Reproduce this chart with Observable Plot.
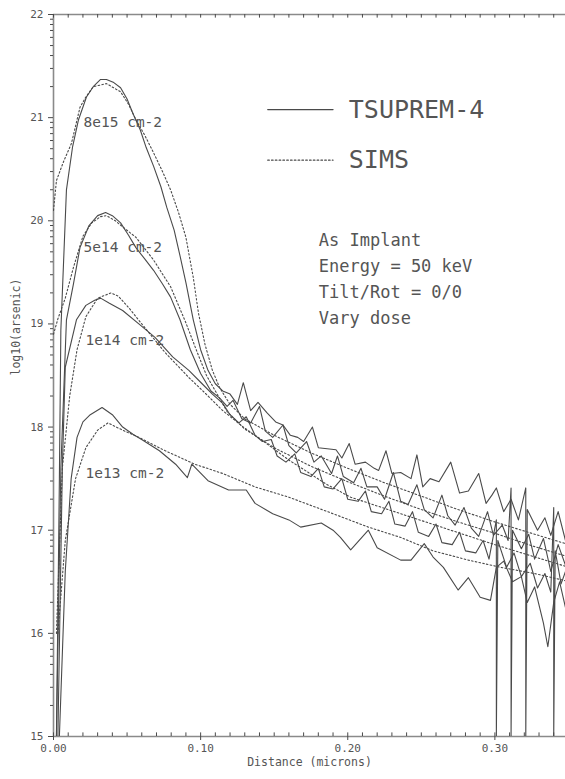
<!DOCTYPE html>
<html>
<head>
<meta charset="utf-8">
<script src="https://cdn.jsdelivr.net/npm/d3@7"></script>
<script src="https://cdn.jsdelivr.net/npm/@observablehq/plot@0.6"></script>
<style>
  html, body { margin: 0; padding: 0; background: #fff; overflow: hidden; }
  #chart svg { display: block; }
</style>
</head>
<body>
<div id="chart"></div>
<script>
// ---- data: [depth (microns), log10(arsenic)] ----
const tsuprem8e15 = [[0.002,15.0],[0.004,17.5],[0.005,18.94],[0.0088,20.3],[0.013,20.72],[0.017,20.98],[0.0224,21.2],[0.027,21.3],[0.032,21.37],[0.036,21.37],[0.041,21.34],[0.0456,21.29],[0.05,21.18],[0.054,21.04],[0.059,20.88],[0.063,20.71],[0.068,20.53],[0.073,20.33],[0.077,20.13],[0.082,19.91],[0.086,19.66],[0.09,19.4],[0.095,19.04],[0.1,18.75],[0.105,18.55],[0.11,18.42],[0.115,18.35],
  [0.12,18.32],[0.125,18.22],[0.129,18.43],[0.134,18.16],[0.139,18.24],[0.145,18.14],[0.151,18.05],[0.156,18.02],[0.161,17.92],[0.166,17.9],[0.17,17.86],[0.176,18.0],[0.18,17.8],[0.186,17.79],[0.192,17.78],[0.196,17.7],[0.201,17.84],[0.205,17.64],[0.212,17.66],[0.218,17.6],[0.221,17.58],[0.226,17.77],[0.23,17.55],[0.236,17.56],[0.243,17.5],[0.247,17.73],[0.251,17.42],[0.256,17.5],[0.262,17.47],[0.27,17.66],[0.276,17.36],[0.282,17.38],[0.289,17.55],[0.294,17.26],[0.298,17.34],[0.301,17.41],[0.306,17.18],[0.311,17.3],[0.316,17.1],[0.321,17.41],[0.321,15.0],[0.322,17.2],[0.329,17.0],[0.334,17.12],[0.338,16.95],[0.343,17.18],[0.348,16.9]];
const tsuprem5e14 = [[0.002,15.0],[0.005,17.6],[0.0088,19.04],[0.0136,19.39],[0.018,19.74],[0.024,19.95],[0.03,20.05],[0.0354,20.08],[0.04,20.05],[0.0456,19.98],[0.051,19.86],[0.056,19.74],[0.062,19.63],[0.068,19.52],[0.074,19.39],[0.0796,19.26],[0.086,19.04],[0.093,18.75],[0.1,18.52],[0.107,18.35],[0.113,18.28],
  [0.118,18.2],[0.122,18.26],[0.128,18.08],[0.134,18.04],[0.14,18.2],[0.144,17.96],[0.149,17.9],[0.156,18.02],[0.16,17.82],[0.165,17.75],[0.172,17.86],[0.177,17.66],[0.182,17.72],[0.189,17.55],[0.193,17.72],[0.197,17.52],[0.204,17.46],[0.209,17.6],[0.213,17.42],[0.22,17.42],[0.225,17.3],[0.231,17.56],[0.236,17.28],[0.241,17.25],[0.247,17.44],[0.252,17.2],[0.258,17.12],[0.264,17.34],[0.268,17.14],[0.273,17.05],[0.279,17.22],[0.284,17.02],[0.289,16.94],[0.295,17.18],[0.299,16.95],[0.305,17.05],[0.309,16.9],[0.311,17.41],[0.311,15.0],[0.312,17.0],[0.318,16.82],[0.323,16.96],[0.327,16.72],[0.333,16.92],[0.338,16.6],[0.343,16.86],[0.348,16.66]];
const tsuprem1e14 = [[0.003,15.0],[0.006,17.6],[0.008,18.58],[0.0156,19.04],[0.022,19.18],[0.028,19.23],[0.032,19.25],[0.038,19.2],[0.047,19.13],[0.058,19.0],[0.069,18.87],[0.081,18.68],[0.092,18.55],[0.101,18.42],[0.108,18.32],[0.115,18.23],
  [0.12,18.12],[0.126,18.04],[0.131,18.1],[0.137,17.92],[0.142,17.86],[0.148,17.88],[0.152,17.72],[0.158,17.66],[0.164,17.74],[0.168,17.56],[0.175,17.52],[0.18,17.6],[0.184,17.42],[0.19,17.4],[0.196,17.5],[0.2,17.3],[0.207,17.28],[0.212,17.38],[0.216,17.18],[0.223,17.16],[0.228,17.28],[0.232,17.06],[0.239,17.04],[0.244,17.18],[0.248,16.98],[0.255,16.94],[0.26,17.06],[0.264,16.88],[0.271,16.86],[0.276,16.98],[0.28,16.8],[0.287,16.78],[0.292,16.9],[0.296,16.72],[0.301,17.1],[0.301,15.0],[0.302,16.9],[0.308,16.64],[0.313,16.78],[0.318,16.55],[0.324,16.68],[0.329,16.44],[0.334,16.58],[0.338,16.4],[0.34,17.22],[0.34,15.0],[0.341,16.8],[0.345,16.48],[0.348,16.6]];
const tsuprem1e13 = [[0.004,15.0],[0.008,16.6],[0.012,17.5],[0.016,17.9],[0.02,18.05],[0.025,18.12],[0.033,18.19],[0.04,18.12],[0.047,18.0],[0.054,17.93],[0.061,17.87],[0.072,17.77],[0.083,17.64],[0.091,17.51],[0.094,17.64],[0.105,17.48],[0.119,17.39],[0.131,17.39],[0.137,17.26],[0.149,17.16],[0.16,17.1],[0.168,17.03],[0.182,17.07],[0.19,17.0],[0.195,16.93],[0.202,16.81],[0.214,17.0],[0.22,16.83],[0.236,16.71],[0.243,16.71],[0.252,16.87],[0.258,16.74],[0.265,16.64],[0.275,16.42],[0.282,16.54],[0.29,16.35],[0.297,16.32],[0.301,16.64],[0.306,16.7],[0.312,16.5],[0.318,16.55],[0.322,16.3],[0.327,16.45],[0.333,16.1],[0.336,15.87],[0.34,16.3],[0.344,16.5],[0.348,16.25]];

const sims8e15 = [[0.0,20.1],[0.002,20.39],[0.007,20.58],[0.0122,20.75],[0.018,21.1],[0.022,21.2],[0.027,21.3],[0.036,21.33],[0.0456,21.25],[0.051,21.13],[0.056,20.98],[0.062,20.83],[0.068,20.66],[0.074,20.48],[0.0796,20.3],[0.085,20.08],[0.09,19.84],[0.095,19.45],[0.0986,19.1],[0.103,18.8],[0.108,18.55],[0.113,18.38],[0.12,18.22],[0.13,18.08],[0.15,17.92],[0.175,17.75],[0.2,17.6],[0.225,17.46],[0.25,17.33],[0.275,17.2],[0.3,17.08],[0.325,16.97],[0.348,16.87]];
const sims5e14 = [[0.0,18.9],[0.003,19.05],[0.008,19.25],[0.0136,19.55],[0.02,19.85],[0.026,19.98],[0.032,20.04],[0.036,20.05],[0.042,20.0],[0.048,19.93],[0.056,19.84],[0.068,19.62],[0.0796,19.36],[0.09,19.01],[0.097,18.75],[0.104,18.5],[0.11,18.35],[0.118,18.15],[0.13,17.98],[0.15,17.8],[0.175,17.62],[0.2,17.47],[0.225,17.33],[0.25,17.2],[0.275,17.08],[0.3,16.97],[0.325,16.85],[0.348,16.75]];
const sims1e14 = [[0.002,16.0],[0.006,17.6],[0.011,18.3],[0.016,18.75],[0.022,19.07],[0.03,19.25],[0.039,19.3],[0.044,19.27],[0.051,19.16],[0.06,19.0],[0.068,18.86],[0.076,18.72],[0.092,18.48],[0.103,18.33],[0.115,18.16],[0.129,18.0],[0.142,17.87],[0.16,17.68],[0.171,17.58],[0.185,17.45],[0.202,17.32],[0.236,17.16],[0.27,17.0],[0.3,16.86],[0.325,16.75],[0.348,16.65]];
const sims1e13 = [[0.003,16.0],[0.008,16.9],[0.015,17.5],[0.022,17.8],[0.03,17.97],[0.037,18.04],[0.047,17.97],[0.058,17.9],[0.076,17.77],[0.096,17.64],[0.115,17.55],[0.137,17.42],[0.16,17.32],[0.19,17.16],[0.214,17.03],[0.236,16.93],[0.258,16.8],[0.282,16.71],[0.304,16.64],[0.327,16.58],[0.348,16.51]];

const doseLabels = ["8e15 cm-2", "5e14 cm-2", "1e14 cm-2", "1e13 cm-2"];
const doseLabelY = [20.957, 19.744, 18.842, 17.551];
const doseLabelX = [0.0204, 0.0204, 0.0218, 0.0218];
const yTickValues = [15, 16, 17, 18, 19, 20, 21, 22];
const xTickValues = [0.0, 0.1, 0.2, 0.3];
const legendNames = ["TSUPREM-4", "SIMS"];
const legendY = [21.078, 20.588];
const notes = ["As Implant", "Energy = 50 keV", "Tilt/Rot = 0/0", "Vary dose"];
const notesY = [19.812, 19.56, 19.308, 19.055];

// ---- build tables ----
const toRows = (arr, name) => arr.map(([x, y]) => ({x, y, name}));
const solidRows = [
  ...toRows(tsuprem8e15, "8e15"), ...toRows(tsuprem5e14, "5e14"),
  ...toRows(tsuprem1e14, "1e14"), ...toRows(tsuprem1e13, "1e13")];
const dottedRows = [
  ...toRows(sims8e15, "8e15"), ...toRows(sims5e14, "5e14"),
  ...toRows(sims1e14, "1e14"), ...toRows(sims1e13, "1e13")];

const xMinor = d3.range(0, 35).map(i => i / 100);
const yMinor = [];
for (let n = 15; n < 22; n++) for (let k = 2; k <= 9; k++) yMinor.push(n + Math.log10(k));

const labelRows = doseLabels.map((t, i) => ({t, x: doseLabelX[i], y: doseLabelY[i]}));
const noteRows = notes.map((t, i) => ({t, x: 0.1803, y: notesY[i]}));
const legendText = legendNames.map((t, i) => ({t, x: 0.2007, y: legendY[i]}));
const legendSolid = [{x: 0.1456, y: legendY[0]}, {x: 0.190, y: legendY[0]}];
const legendDot = [{x: 0.1456, y: legendY[1]}, {x: 0.190, y: legendY[1]}];

const ink = "#4a4a4a";
const axisInk = "#8a8a8a";
const mono = "DejaVu Sans Mono, monospace";

const chart = Plot.plot({
  width: 565,
  height: 779,
  marginLeft: 53,
  marginRight: 0,
  marginTop: 14,
  marginBottom: 43,
  style: {fontFamily: mono, color: ink, background: "#fff"},
  x: {domain: [0, 0.348], axis: null},
  y: {domain: [15, 22], axis: null},
  marks: [
    // frame
    Plot.ruleY([15, 22], {stroke: axisInk, strokeWidth: 1.6}),
    Plot.ruleX([0], {stroke: axisInk, strokeWidth: 1.6}),
    // minor x ticks (bottom and top)
    Plot.ruleX(xMinor, {x: d => d, y1: 15, y2: 15.035, stroke: ink, strokeWidth: 1}),
    Plot.ruleX(xMinor, {x: d => d, y1: 22, y2: 21.965, stroke: ink, strokeWidth: 1}),
    // y ticks
    Plot.axisY(yMinor, {anchor: "left", label: null, tickSize: 3, tickFormat: () => "", stroke: ink}),
    Plot.axisY(yTickValues, {anchor: "left", label: null, tickSize: 5, tickPadding: 5, tickFormat: d3.format("d"),
      fontSize: 11, fill: "#555", stroke: ink, style: {letterSpacing: "0.8px"}}),
    Plot.axisX(xTickValues, {anchor: "bottom", label: null, tickSize: 4, tickPadding: 4, tickFormat: d3.format(".2f"),
      fontSize: 11, fill: "#555", stroke: ink, style: {letterSpacing: "1px"}}),
    // curves
    Plot.line(dottedRows, {x: "x", y: "y", z: "name", stroke: ink, strokeWidth: 1.1, strokeDasharray: "1.6,2.2", clip: true}),
    Plot.line(solidRows, {x: "x", y: "y", z: "name", stroke: ink, strokeWidth: 1.1, clip: true}),
    // curve labels
    Plot.text(labelRows, {x: "x", y: "y", text: "t", textAnchor: "start", fontSize: 14.5, fill: "#555",
      style: {letterSpacing: "1px"}}),
    // legend
    Plot.line(legendSolid, {x: "x", y: "y", stroke: ink, strokeWidth: 1.2}),
    Plot.line(legendDot, {x: "x", y: "y", stroke: ink, strokeWidth: 1.2, strokeDasharray: "1.6,2.2"}),
    Plot.text(legendText, {x: "x", y: "y", text: "t", textAnchor: "start", fontSize: 25, fill: "#555"}),
    // annotation
    Plot.text(noteRows, {x: "x", y: "y", text: "t", textAnchor: "start", fontSize: 17, fill: "#555",
      style: {letterSpacing: "2.8px"}}),
    // axis titles
    Plot.text(["Distance (microns)"], {frameAnchor: "bottom", dy: 29, text: d => d, fontSize: 11.5, fill: "#555",
      style: {letterSpacing: "1.1px"}}),
    Plot.text(["log10(arsenic)"], {frameAnchor: "left", dx: -37, rotate: -90, text: d => d, fontSize: 11.5, fill: "#555",
      style: {letterSpacing: "0.9px"}})
  ]
});
document.getElementById("chart").append(chart);
</script>
</body>
</html>
